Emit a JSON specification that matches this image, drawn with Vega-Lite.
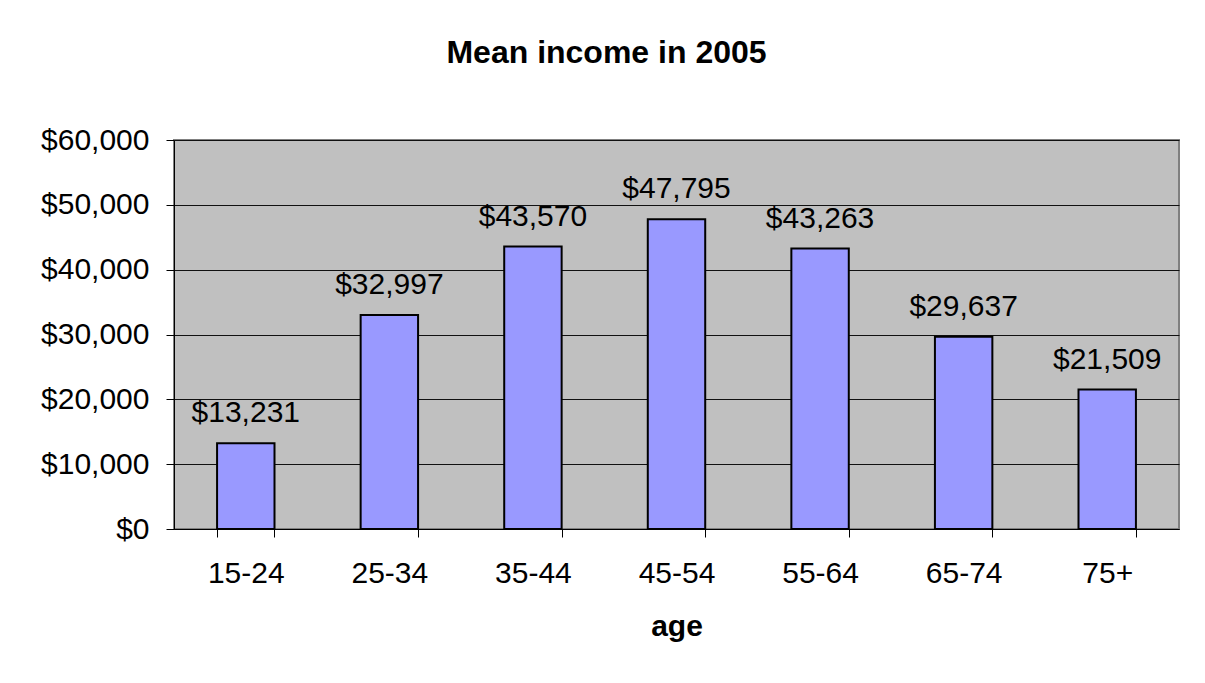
{
  "$schema": "https://vega.github.io/schema/vega-lite/v6.json",
  "width": 1005,
  "height": 389,
  "autosize": "none",
  "padding": {"left": 174, "top": 140, "right": 26, "bottom": 154},
  "background": "white",
  "title": {
    "text": "Mean income in 2005",
    "font": "Liberation Sans",
    "fontSize": 32,
    "fontWeight": "bold",
    "color": "black",
    "anchor": "middle",
    "frame": "group",
    "dx": -70,
    "baseline": "alphabetic",
    "offset": 30
  },
  "config": {
    "font": "Liberation Sans",
    "view": {"fill": "#C0C0C0", "stroke": "#808080", "strokeWidth": 2}
  },
  "data": {
    "values": [
      {"age": "15-24", "income": 13231},
      {"age": "25-34", "income": 32997},
      {"age": "35-44", "income": 43570},
      {"age": "45-54", "income": 47795},
      {"age": "55-64", "income": 43263},
      {"age": "65-74", "income": 29637},
      {"age": "75+", "income": 21509}
    ]
  },
  "encoding": {
    "x": {
      "field": "age",
      "type": "nominal",
      "sort": null,
      "scale": {"paddingInner": 0.6, "paddingOuter": 0.3},
      "axis": {
        "labelAngle": 0,
        "labelFontSize": 30,
        "labelColor": "black",
        "labelBaseline": "alphabetic",
        "labelPadding": 45,
        "tickBand": "extent",
        "tickSize": 8,
        "tickColor": "black",
        "domainColor": "black",
        "domainWidth": 1,
        "title": "age",
        "titleFontSize": 30,
        "titleFontWeight": "bold",
        "titleColor": "black",
        "titleBaseline": "alphabetic",
        "titleY": 106
      }
    }
  },
  "layer": [
    {
      "mark": {"type": "bar", "fill": "#9999FF", "stroke": "black", "strokeWidth": 2},
      "encoding": {
        "y": {
          "field": "income",
          "type": "quantitative",
          "scale": {"domain": [0, 60000], "nice": false},
          "axis": {
            "values": [0, 10000, 20000, 30000, 40000, 50000, 60000],
            "format": "$,.0f",
            "labelFontSize": 30,
            "labelColor": "black",
            "labelPadding": 17,
            "tickSize": 8,
            "tickColor": "black",
            "domainColor": "black",
            "grid": true,
            "gridColor": "#111111",
            "gridWidth": 1,
            "title": null
          }
        }
      }
    },
    {
      "mark": {"type": "text", "baseline": "alphabetic", "dy": -21, "fontSize": 30, "color": "black"},
      "encoding": {
        "y": {"field": "income", "type": "quantitative"},
        "text": {"field": "income", "type": "quantitative", "format": "$,.0f"}
      }
    }
  ]
}
